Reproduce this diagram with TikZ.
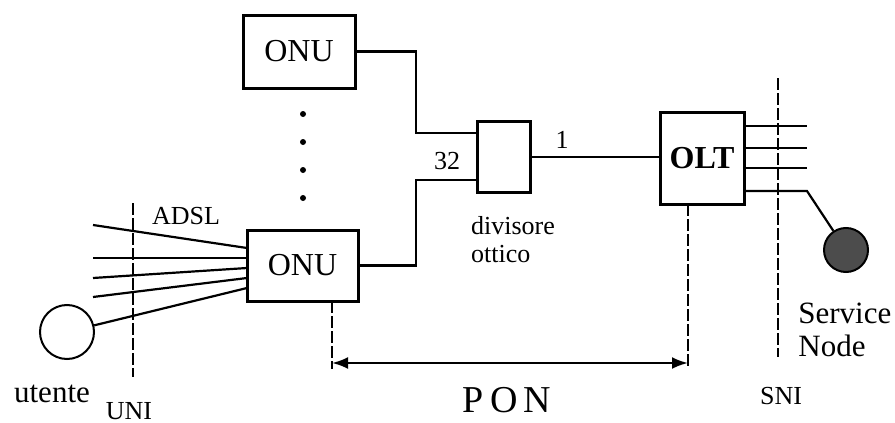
\documentclass[tikz,border=0pt]{standalone}
\usepackage{fontspec}
\setmainfont{Liberation Serif}
\usetikzlibrary{arrows.meta,positioning,calc}

\begin{document}
\begin{tikzpicture}[x=0.5pt,y=-0.5pt,>={Latex[length=8pt,width=6pt]},
  box/.style={draw,line width=1.5pt,outer sep=0pt,inner sep=0pt,font=\fontsize{16}{18}\selectfont},
  wire/.style={line width=1.1pt},
  cut/.style={line width=1pt,dash pattern=on 6pt off 1.5pt},
  lbl/.style={font=\fontsize{13}{15}\selectfont,inner sep=0pt},
  big/.style={font=\fontsize{15.5}{16.5}\selectfont,inner sep=0pt}]
\useasboundingbox (0,0) rectangle (895,423);
% boxes
\node[box,minimum width=56pt,minimum height=36.5pt] (onuA) at (299,51.5) {ONU};
\node[box,minimum width=55.5pt,minimum height=35.5pt] (onuB) at (302.5,265.5) {ONU};
\node[box,minimum width=26.5pt,minimum height=35.5pt] (div) at (503.5,157) {};
\node[box,minimum width=42pt,minimum height=46pt] (olt) at (702,158) {\textbf{OLT}};
\node[draw,circle,line width=1pt,minimum size=27pt] (ut) at (67,332) {};
\node[draw,circle,line width=1pt,fill=black!70,minimum size=22pt] (sn) at (846,250) {};
% dots between the ONUs
\foreach \y in {114,142,170,198} \fill (303,\y) circle (1.5pt);
% fibre
\draw[wire] (onuA.east) -- ++(61,0) |- ([yshift=12pt]div.west);
\draw[wire] (onuB.east) -- ++(58,0) |- ([yshift=-11.5pt]div.west);
\draw[wire] (div.east) -- (div.east -| olt.west);
% OLT ports
\foreach \dy in {16,5,-5} \draw[wire] ([yshift=\dy pt]olt.east) -- ++(63,0);
\draw[wire] ([yshift=-16.5pt]olt.east) -- ++(63,0) -- (sn);
% ADSL lines
\foreach \dy/\y in {8.75/225,3.75/258,-1.25/278,-6.25/297} \draw[wire] ([yshift=\dy pt]onuB.west) -- (93,\y);
\draw[wire] (ut) -- ([yshift=-11.25pt]onuB.west);
% interfaces
\draw[cut] (133,203) -- (133,377);
\draw[cut] (778,78) -- (778,357);
\coordinate (pL) at (332,363);
\coordinate (pR) at (688,363);
\draw[cut] (pL |- onuB.south) -- ([yshift=-3pt]pL);
\draw[cut] (pR |- olt.south) -- ([yshift=-3pt]pR);
\draw[<->,line width=1.2pt] (pL) -- (pR);
% labels
\node[lbl] (n32) at (447,161) {32};
\node[lbl] (n1) at (562,140) {1};
\node[lbl,align=left] (divl) at (513,240) {divisore\\[-1pt]ottico};
\node[lbl] (adsl) at (186,216) {ADSL};
\node[big] (utl) at (52,394) {utente};
\node[lbl] (uni) at (129,411) {UNI};
\node[lbl] (sni) at (781,396) {SNI};
\node[big,align=left,anchor=west] (snl) at (798,330) {Service\\Node};
\node[font=\fontsize{19}{21}\selectfont,inner sep=0pt] (pon) at (507,400) {P\,O\,N};
\end{tikzpicture}
\end{document}
